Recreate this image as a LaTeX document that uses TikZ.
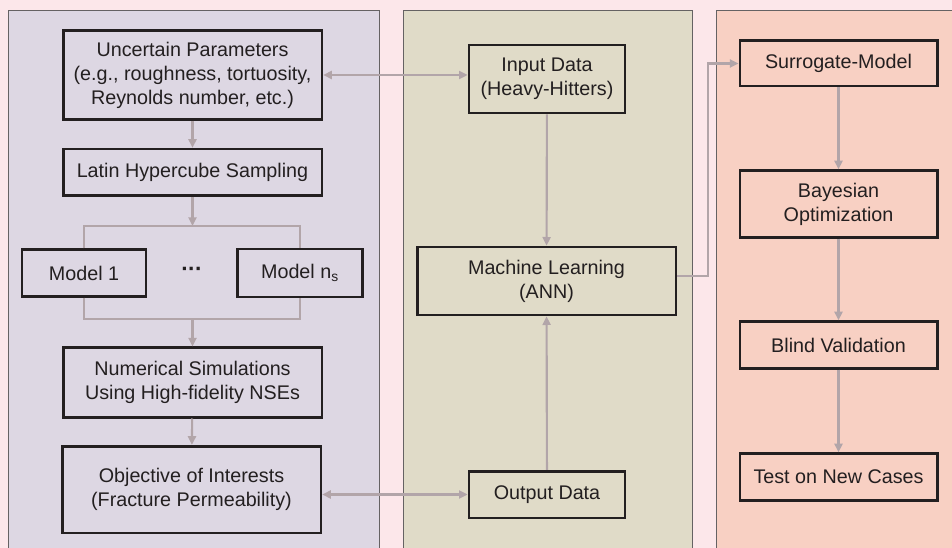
\documentclass[tikz,border=0pt]{standalone}
\usepackage{fontspec}
\setmainfont{Liberation Sans}
\usetikzlibrary{arrows.meta}

\definecolor{fond}{HTML}{FCE7EA}
\definecolor{gauche}{HTML}{DDD7E3}
\definecolor{milieu}{HTML}{E0DBC8}
\definecolor{droite}{HTML}{F8D0C3}
\definecolor{trait}{HTML}{231F20}
\definecolor{liaison}{HTML}{B2A5A9}

\tikzset{
  bloc/.style={draw=trait, line width=2pt, align=center, inner sep=0pt,
    text=trait, font=\fontsize{14.8}{18}\selectfont},
  fleche/.style={draw=liaison, line width=1.6pt, -{Triangle[length=6.5pt,width=6pt]}},
  double fleche/.style={draw=liaison, line width=1.6pt,
    {Triangle[length=6.5pt,width=6pt]}-{Triangle[length=6.5pt,width=6pt]}},
  ligne/.style={draw=liaison, line width=1.6pt},
  cadre/.style={draw=trait!70, line width=0.6pt}
}

\begin{document}
\begin{tikzpicture}[x=0.75pt, y=-0.75pt]
    \clip (0,0) rectangle (952,548);
    \fill[fond] (0,0) rectangle (952,548);

    % Colonnes
    \filldraw[gauche, cadre] (8,10) rectangle (379,560);
    \filldraw[milieu, cadre] (403,10) rectangle (692,560);
    \filldraw[droite, cadre] (716,10) rectangle (960,560);

    % Colonne gauche
    \node[bloc, minimum width=194pt, minimum height=67pt] (param) at (192.5,75)
        {Uncertain Parameters\\(e.g., roughness, tortuosity,\\Reynolds number, etc.)};
    \node[bloc, minimum width=194pt, minimum height=35pt] (lhs) at (192.5,172.5)
        {Latin Hypercube Sampling};
    \node[bloc, minimum width=93pt, minimum height=35pt] (model1) at (84,273) {Model 1};
    \node[text=trait, font=\bfseries\fontsize{17}{18}\selectfont] (dots) at (192,272)
        {\char"00B7\kern-0.5pt\char"00B7\kern-0.5pt\char"00B7};
    \node[bloc, minimum width=94pt, minimum height=36pt] (modeln) at (300,273)
        {Model n\textsubscript{s}};
    \node[bloc, minimum width=194pt, minimum height=52pt] (simu) at (192.5,382.5)
        {Numerical Simulations\\Using High-fidelity NSEs};
    \node[bloc, minimum width=194pt, minimum height=65pt] (objectif) at (191.5,489.5)
        {Objective of Interests\\(Fracture Permeability)};

    \coordinate (fourche) at (192.5,226);
    \coordinate (jonction) at (192.5,319);

    % Colonne du milieu
    \node[bloc, minimum width=117pt, minimum height=51pt] (entree) at (547,79)
        {Input Data\\(Heavy-Hitters)};
    \node[bloc, minimum width=194pt, minimum height=51pt] (ml) at (546.5,281)
        {Machine Learning\\(ANN)};
    \node[bloc, minimum width=117pt, minimum height=35pt] (sortie) at (547,494.5)
        {Output Data};

    % Colonne droite
    \node[bloc, minimum width=148pt, minimum height=34pt] (substitut) at (838.5,63.5)
        {Surrogate-Model};
    \node[bloc, minimum width=148pt, minimum height=50pt] (bayes) at (838.5,204)
        {Bayesian\\Optimization};
    \node[bloc, minimum width=148pt, minimum height=35pt] (validation) at (838.5,345)
        {Blind Validation};
    \node[bloc, minimum width=148pt, minimum height=35pt] (test) at (838.5,477)
        {Test on New Cases};

    % Liaisons
    \draw[fleche] (param) -- (lhs);
    \draw[fleche] (lhs) -- (fourche);
    \draw[ligne] (model1.north) |- (modeln.north |- fourche) -- (modeln.north);
    \draw[ligne] (model1.south) |- (modeln.south |- jonction) -- (modeln.south);
    \draw[fleche] (jonction) -- (simu);
    \draw[fleche] (simu) -- (objectif);

    \draw[double fleche] (param.east) -- (param.east -| entree.west);
    \draw[double fleche] (objectif.east |- sortie.west) -- (sortie.west);

    \draw[fleche] (entree) -- (ml);
    \draw[fleche] (sortie) -- (ml);
    \draw[fleche] ([yshift=3.75pt]ml.east) -- ++(31,0) |- (substitut.west);

    \draw[fleche] (substitut) -- (bayes);
    \draw[fleche] (bayes) -- (validation);
    \draw[fleche] (validation) -- (test);
\end{tikzpicture}
\end{document}
